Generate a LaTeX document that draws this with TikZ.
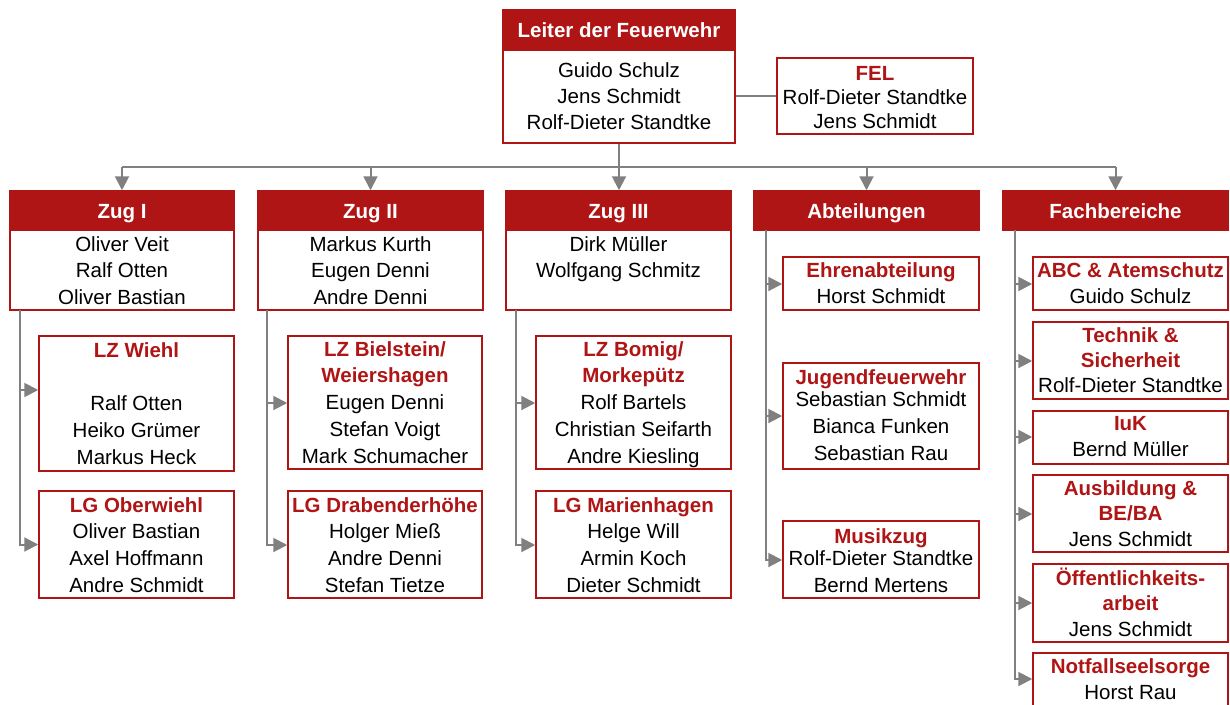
\documentclass[tikz,border=0pt]{standalone}
\usepackage{fontspec}
\setmainfont{Liberation Sans}
\usetikzlibrary{fit,arrows.meta,calc}
\definecolor{fwred}{RGB}{176,21,21}
\definecolor{lgray}{RGB}{128,128,128}
\def\lskip{26.7}
\tikzset{
 bodybox/.style={draw=fwred, line width=1.5pt, fill=white, inner sep=0pt},
 hdrbox/.style={fill=fwred, draw=fwred, line width=1.5pt, inner sep=0pt},
 hdrtxt/.style={inner sep=0pt, text=white, font=\fontsize{20.5}{24}\selectfont\bfseries},
 txt/.style={inner sep=0pt, align=center, font=\fontsize{20.5}{\lskip}\selectfont},
 conn/.style={draw=lgray, line width=2pt},
 arr/.style={conn, -{Triangle[length=14pt,width=14pt]}},
}
\newcommand\hd[1]{{\color{fwred}\bfseries #1}}
\newcommand\ubox[7]{%
 \node[bodybox, fit={(#2,#3) (#4,#5)}] (#1) {};
 \pgfmathsetmacro\tcx{(#2+#4)/2}\pgfmathsetmacro\tty{#6-0.7*\lskip}
 \node[txt, anchor=north] (#1t) at (\tcx,\tty) {\strut #7};}
\newcommand\hdr[6]{\node[hdrbox, fit={(#2,#3) (#4,#5)}] (#1) {};
 \node[hdrtxt, anchor=base] (#1t) at ($(#1.center)+(0,7.5)$) {#6};}
\begin{document}
\begin{tikzpicture}[x=1pt,y=-1pt]
\useasboundingbox (0,0) rectangle (1230,704);
\clip (0,0) rectangle (1230,704);
% Leiter
\def\lskip{26}
\ubox{lf}{503}{10}{735}{143}{77}{Guido Schulz\\Jens Schmidt\\Rolf-Dieter Standtke}
\hdr{lfh}{503}{10}{735}{50}{Leiter der Feuerwehr}
\def\lskip{24.2}
\ubox{fel}{777}{58}{973}{134}{80}{\hd{FEL}\\Rolf-Dieter Standtke\\Jens Schmidt}
\def\lskip{26.7}
% Zuege
\ubox{z1}{10}{191}{234}{310}{251}{Oliver Veit\\Ralf Otten\\Oliver Bastian}
\hdr{z1h}{10}{191}{234}{230}{Zug I}
\ubox{z2}{258}{191}{483}{310}{251}{Markus Kurth\\Eugen Denni\\Andre Denni}
\hdr{z2h}{258}{191}{483}{230}{Zug II}
\ubox{z3}{506}{191}{731}{310}{251}{Dirk Müller\\Wolfgang Schmitz}
\hdr{z3h}{506}{191}{731}{230}{Zug III}
\hdr{abt}{754}{191}{979}{230}{Abteilungen}
\hdr{fb}{1003}{191}{1228}{230}{Fachbereiche}
% Zug I subs
\ubox{lzw}{39}{336}{234}{471}{357}{\hd{LZ Wiehl}\\\mbox{}\\Ralf Otten\\Heiko Grümer\\Markus Heck}
\ubox{lgo}{39}{491}{234}{598}{512}{\hd{LG Oberwiehl}\\Oliver Bastian\\Axel Hoffmann\\Andre Schmidt}
% Zug II subs
\ubox{lzb}{288}{336}{482}{469}{356}{\hd{LZ Bielstein/}\\\hd{Weiershagen}\\Eugen Denni\\Stefan Voigt\\Mark Schumacher}
\ubox{lgd}{288}{491}{482}{598}{512}{\hd{LG Drabenderhöhe}\\Holger Mieß\\Andre Denni\\Stefan Tietze}
% Zug III subs
\ubox{lzbo}{536}{336}{731}{469}{356}{\hd{LZ Bomig/}\\\hd{Morkepütz}\\Rolf Bartels\\Christian Seifarth\\Andre Kiesling}
\ubox{lgm}{536}{491}{731}{598}{512}{\hd{LG Marienhagen}\\Helge Will\\Armin Koch\\Dieter Schmidt}
% Abteilungen subs
\ubox{ehr}{783}{257}{979}{310}{277}{\hd{Ehrenabteilung}\\Horst Schmidt}
\ubox{jf}{783}{363}{979}{469}{384}{\hd{Jugendfeuerwehr}\\[-4pt]Sebastian Schmidt\\Bianca Funken\\Sebastian Rau}
\ubox{mz}{783}{521}{979}{598}{543}{\hd{Musikzug}\\[-4pt]Rolf-Dieter Standtke\\Bernd Mertens}
% Fachbereiche subs
\ubox{abc}{1033}{257}{1228}{310}{277}{\hd{ABC \& Atemschutz}\\Guido Schulz}
\def\lskip{25}
\ubox{tech}{1033}{322}{1228}{399}{342}{\hd{Technik \&}\\\hd{Sicherheit}\\Rolf-Dieter Standtke}
\def\lskip{26.7}
\ubox{iuk}{1033}{411}{1228}{464}{430}{\hd{IuK}\\Bernd Müller}
\def\lskip{25.5}
\ubox{ausb}{1033}{475}{1228}{552}{495}{\hd{Ausbildung \&}\\\hd{BE/BA}\\Jens Schmidt}
\ubox{oef}{1033}{564}{1228}{642}{585}{\hd{Öffentlichkeits-}\\\hd{arbeit}\\Jens Schmidt}
\def\lskip{26.7}
\ubox{nfs}{1033}{653}{1228}{725}{673}{\hd{Notfallseelsorge}\\Horst Rau}
% Connectors top
\coordinate (bus) at (618,167);
\draw[arr] (lf.south) -- (lf.south |- z3.north);
\draw[conn] (bus -| z1.north) -- (bus -| fb.north);
\foreach \n in {z1,z2,abt,fb} \draw[arr] (bus -| \n.north) -- (\n.north);
\draw[conn] (fel.west) -- (fel.west -| lf.east);
% Zug I
\coordinate (v1t) at (20,310); \coordinate (v1a) at (20,390); \coordinate (v1b) at (20,544.5);
\draw[arr] (v1t) -- (v1b) -- (v1b -| lgo.west);
\draw[arr] (v1a) -- (v1a -| lzw.west);
% Zug II
\coordinate (v2t) at (267,310); \coordinate (v2a) at (267,403); \coordinate (v2b) at (267,545);
\draw[arr] (v2t) -- (v2b) -- (v2b -| lgd.west);
\draw[arr] (v2a) -- (v2a -| lzb.west);
% Zug III
\coordinate (v3t) at (516,310); \coordinate (v3a) at (516,403); \coordinate (v3b) at (516,545);
\draw[arr] (v3t) -- (v3b) -- (v3b -| lgm.west);
\draw[arr] (v3a) -- (v3a -| lzbo.west);
% Abteilungen
\coordinate (v4t) at (766,230); \coordinate (v4a) at (766,284); \coordinate (v4b) at (766,416); \coordinate (v4c) at (766,560);
\draw[arr] (v4t) -- (v4c) -- (v4c -| mz.west);
\draw[arr] (v4a) -- (v4a -| ehr.west);
\draw[arr] (v4b) -- (v4b -| jf.west);
% Fachbereiche
\coordinate (v5t) at (1015,230);
\coordinate (v5a) at (1015,284); \coordinate (v5b) at (1015,361); \coordinate (v5c) at (1015,437);
\coordinate (v5d) at (1015,514); \coordinate (v5e) at (1015,603); \coordinate (v5f) at (1015,679);
\draw[arr] (v5t) -- (v5f) -- (v5f -| nfs.west);
\draw[arr] (v5a) -- (v5a -| abc.west);
\draw[arr] (v5b) -- (v5b -| tech.west);
\draw[arr] (v5c) -- (v5c -| iuk.west);
\draw[arr] (v5d) -- (v5d -| ausb.west);
\draw[arr] (v5e) -- (v5e -| oef.west);
\end{tikzpicture}
\end{document}
